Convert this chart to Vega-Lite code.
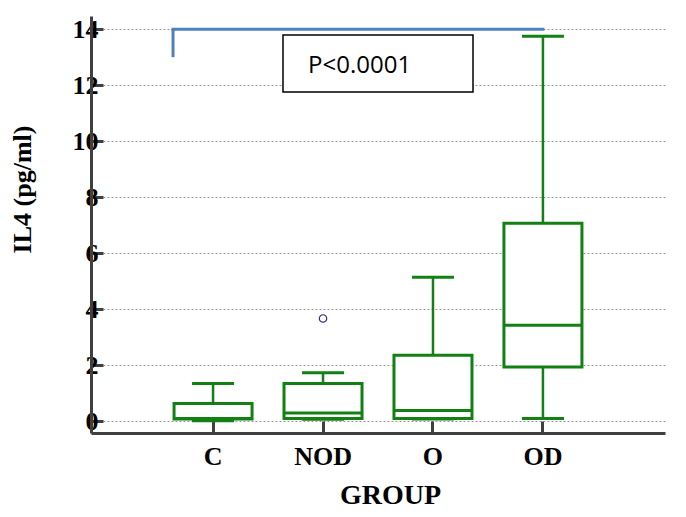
{
  "$schema": "https://vega.github.io/schema/vega-lite/v6.json",
  "width": 574,
  "height": 417,
  "autosize": {"type": "none"},
  "padding": {"left": 91, "top": 16, "right": 21, "bottom": 84},
  "background": "white",
  "config": {
    "view": {"stroke": null},
    "axis": {
      "domainColor": "#404040",
      "domainWidth": 3,
      "tickColor": "#404040",
      "tickWidth": 3,
      "labelFont": "Liberation Serif",
      "labelFontWeight": "bold",
      "labelFontSize": 26,
      "labelColor": "black",
      "titleFont": "Liberation Serif",
      "titleFontWeight": "bold",
      "titleColor": "black"
    }
  },
  "datasets": {
    "stats": [
      {"group": "C", "lower": 0.02, "q1": 0.08, "median": 0.1, "q3": 0.63, "upper": 1.35},
      {"group": "NOD", "lower": 0.07, "q1": 0.1, "median": 0.29, "q3": 1.35, "upper": 1.73},
      {"group": "O", "lower": 0.08, "q1": 0.1, "median": 0.38, "q3": 2.36, "upper": 5.14},
      {"group": "OD", "lower": 0.1, "q1": 1.94, "median": 3.43, "q3": 7.07, "upper": 13.75}
    ],
    "outliers": [{"group": "NOD", "value": 3.67}],
    "bracket": [{"from": "C", "to": "OD", "top": 14, "low": 13}],
    "note": [{"from": "NOD", "to": "O", "y1": 11.76, "y2": 13.79, "ty": 12.7, "label": "P<0.0001"}]
  },
  "layer": [
    {
      "data": {"name": "stats"},
      "mark": {"type": "rule", "color": "#138013", "strokeWidth": 2.5},
      "encoding": {
        "x": {
          "field": "group", "type": "nominal", "title": "GROUP",
          "scale": {"type": "band", "domain": ["C", "NOD", "O", "OD"], "paddingInner": 0, "paddingOuter": 0.61},
          "axis": {
            "labelAngle": 0, "tickSize": -12, "grid": false,
            "labelPadding": 22, "titleFontSize": 28, "titleX": 299, "titleY": 70,
            "titleBaseline": "alphabetic", "titleAlign": "center"
          }
        },
        "y": {
          "field": "lower", "type": "quantitative", "title": "IL4 (pg/ml)",
          "scale": {"domain": [-0.42, 14.47], "nice": false, "zero": false},
          "axis": {
            "values": [0, 1, 2, 3, 4, 5, 6, 7, 8, 9, 10, 11, 12, 13, 14],
            "labelExpr": "datum.value % 2 === 0 ? datum.label : ''",
            "tickSize": {"condition": {"test": "datum.value % 2 === 1", "value": -7}, "value": -12},
            "grid": true,
            "gridDash": [2, 2],
            "gridColor": "#999999",
            "gridWidth": 1,
            "gridOpacity": {"condition": {"test": "datum.value % 2 === 1", "value": 0}, "value": 1},
            "labelPadding": 5,
            "titleFontSize": 26,
            "titleX": -69,
            "titleY": 173,
            "titleAlign": "center",
            "titleBaseline": "middle"
          }
        },
        "y2": {"field": "q1"}
      }
    },
    {
      "data": {"name": "stats"},
      "mark": {"type": "rule", "color": "#138013", "strokeWidth": 2.5},
      "encoding": {
        "x": {"field": "group", "type": "nominal", "title": "GROUP"},
        "y": {"field": "q3", "type": "quantitative", "title": "IL4 (pg/ml)"},
        "y2": {"field": "upper"}
      }
    },
    {
      "data": {"name": "stats"},
      "mark": {"type": "bar", "size": 78, "fill": "white", "stroke": "#138013", "strokeWidth": 3},
      "encoding": {
        "x": {"field": "group", "type": "nominal", "title": "GROUP"},
        "y": {"field": "q1", "type": "quantitative", "title": "IL4 (pg/ml)"},
        "y2": {"field": "q3"}
      }
    },
    {
      "data": {"name": "stats"},
      "mark": {"type": "tick", "orient": "horizontal", "size": 78, "thickness": 3, "color": "#138013", "opacity": 1},
      "encoding": {
        "x": {"field": "group", "type": "nominal", "title": "GROUP"},
        "y": {"field": "median", "type": "quantitative", "title": "IL4 (pg/ml)"}
      }
    },
    {
      "data": {"name": "stats"},
      "mark": {"type": "tick", "orient": "horizontal", "size": 42, "thickness": 3, "color": "#138013", "opacity": 1},
      "encoding": {
        "x": {"field": "group", "type": "nominal", "title": "GROUP"},
        "y": {"field": "lower", "type": "quantitative", "title": "IL4 (pg/ml)"}
      }
    },
    {
      "data": {"name": "stats"},
      "mark": {"type": "tick", "orient": "horizontal", "size": 42, "thickness": 3, "color": "#138013", "opacity": 1},
      "encoding": {
        "x": {"field": "group", "type": "nominal", "title": "GROUP"},
        "y": {"field": "upper", "type": "quantitative", "title": "IL4 (pg/ml)"}
      }
    },
    {
      "data": {"name": "outliers"},
      "mark": {"type": "point", "shape": "circle", "filled": false, "stroke": "#2a2a8c", "strokeWidth": 1.2, "size": 55, "opacity": 1},
      "encoding": {
        "x": {"field": "group", "type": "nominal", "title": "GROUP"},
        "y": {"field": "value", "type": "quantitative", "title": "IL4 (pg/ml)"}
      }
    },
    {
      "data": {"name": "bracket"},
      "mark": {"type": "rule", "color": "#4f81bd", "strokeWidth": 3},
      "encoding": {
        "x": {"field": "from", "type": "nominal", "bandPosition": 0.136, "title": "GROUP"},
        "y": {"field": "low", "type": "quantitative", "title": "IL4 (pg/ml)"},
        "y2": {"field": "top"}
      }
    },
    {
      "data": {"name": "bracket"},
      "mark": {"type": "rule", "color": "#4f81bd", "strokeWidth": 3, "strokeCap": "square"},
      "encoding": {
        "x": {"field": "from", "type": "nominal", "bandPosition": 0.136, "title": "GROUP"},
        "x2": {"field": "to", "bandPosition": 0.5},
        "y": {"field": "top", "type": "quantitative", "title": "IL4 (pg/ml)"}
      }
    },
    {
      "data": {"name": "note"},
      "mark": {"type": "rect", "fill": "white", "stroke": "black", "strokeWidth": 1.5},
      "encoding": {
        "x": {"field": "from", "type": "nominal", "bandPosition": 0.136, "title": "GROUP"},
        "x2": {"field": "to", "bandPosition": 0.864},
        "y": {"field": "y1", "type": "quantitative", "title": "IL4 (pg/ml)"},
        "y2": {"field": "y2"}
      }
    },
    {
      "data": {"name": "note"},
      "mark": {"type": "text", "align": "left", "baseline": "middle", "font": "Open Sans", "fontSize": 24, "color": "black"},
      "encoding": {
        "x": {"field": "from", "type": "nominal", "bandPosition": 0.364, "title": "GROUP"},
        "y": {"field": "ty", "type": "quantitative", "title": "IL4 (pg/ml)"},
        "text": {"field": "label"}
      }
    }
  ]
}
